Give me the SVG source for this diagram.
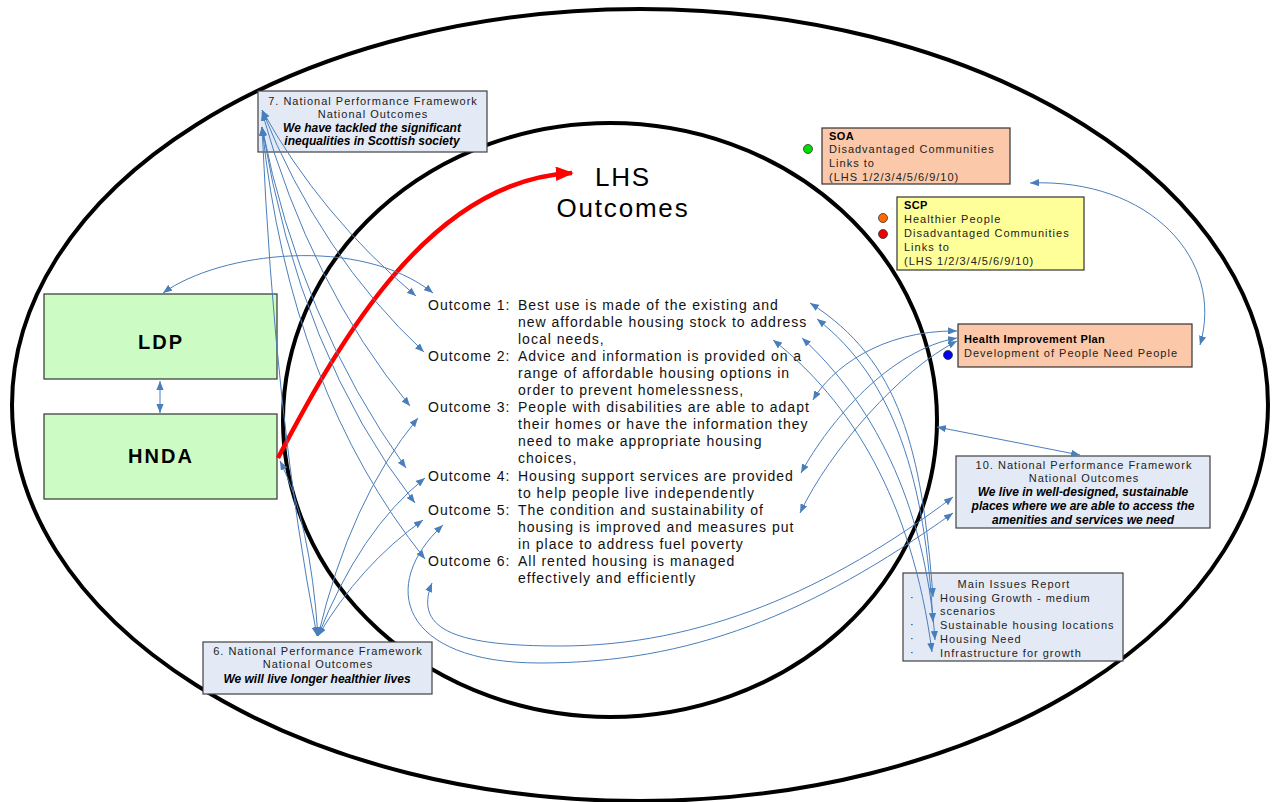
<svg xmlns="http://www.w3.org/2000/svg" width="1274" height="802" viewBox="0 0 1274 802">
<defs>
<style>
.t{font-family:"Liberation Sans",Arial,sans-serif;font-size:11px;letter-spacing:1px;fill:#222}
.c{text-anchor:middle}
.bi{font-family:"Liberation Sans",Arial,sans-serif;font-size:12px;font-weight:bold;font-style:italic;fill:#000;text-anchor:middle}
.b{font-weight:bold;letter-spacing:0.4px;fill:#000}
.o{font-family:"Liberation Sans",Arial,sans-serif;font-size:14px;letter-spacing:1px;fill:#111}
.big{font-family:"Liberation Sans",Arial,sans-serif;font-size:20px;font-weight:bold;letter-spacing:2px;fill:#000;text-anchor:middle}
.nb{fill:#e4eaf5;stroke:#404040;stroke-width:1.2}
.gb{fill:#ccfcc4;stroke:#333;stroke-width:1.2}
.pb{fill:#fbc9aa;stroke:#333;stroke-width:1.2}
.yb{fill:#ffff99;stroke:#333;stroke-width:1.2}
.cn path{fill:none;stroke:#4a7ebb;stroke-width:1;marker-start:url(#a);marker-end:url(#a)}
.ell{fill:none;stroke:#000;stroke-width:4}
.dot{stroke:#333;stroke-width:0.8}
</style>
<marker id="a" viewBox="0 0 10 8" refX="10" refY="4" markerWidth="9" markerHeight="7.2" markerUnits="userSpaceOnUse" orient="auto-start-reverse"><path d="M0,0 L10,4 L0,8 z" fill="#4a7ebb"/></marker>
<marker id="r" viewBox="0 0 10 8" refX="9" refY="4" markerWidth="18" markerHeight="14.4" markerUnits="userSpaceOnUse" orient="auto"><path d="M0,0 L10,4 L0,8 z" fill="#ff0000"/></marker>
</defs>
<rect width="1274" height="802" fill="#fff"/>
<g id="ellipses">
<ellipse class="ell" cx="640" cy="405" rx="628" ry="396"/>
<ellipse class="ell" cx="610" cy="420" rx="327" ry="297"/>
</g>
<g id="lhs-title">
<text class="t c" x="623" y="186" style="font-size:26px;letter-spacing:1.8px;fill:#000">LHS</text>
<text class="t c" x="623" y="217" style="font-size:26px;letter-spacing:1.8px;fill:#000">Outcomes</text>
</g>
<g id="npf7">
<rect class="nb" x="258" y="91" width="229" height="61"/>
<text class="t c" x="373" y="105">7. National Performance Framework</text>
<text class="t c" x="373" y="118">National Outcomes</text>
<text class="bi" x="372" y="132">We have tackled the significant</text>
<text class="bi" x="372" y="145">inequalities in Scottish society</text>
</g>
<g id="ldp">
<rect class="gb" x="44" y="294" width="233" height="85"/>
<text class="big" x="161" y="349">LDP</text>
</g>
<g id="hnda">
<rect class="gb" x="44" y="414" width="233" height="85"/>
<text class="big" x="161" y="463">HNDA</text>
</g>
<g id="npf6">
<rect class="nb" x="203" y="642" width="229" height="52"/>
<text class="t c" x="318" y="655">6. National Performance Framework</text>
<text class="t c" x="318" y="668">National Outcomes</text>
<text class="bi" x="317" y="683">We will live longer healthier lives</text>
</g>
<g id="soa">
<circle class="dot" cx="808" cy="149" r="4.5" fill="#00dd00"/>
<rect class="pb" x="822" y="128" width="188" height="56"/>
<text class="t b" x="829" y="140">SOA</text>
<text class="t" x="829" y="153">Disadvantaged Communities</text>
<text class="t" x="829" y="167">Links to</text>
<text class="t" x="829" y="181">(LHS 1/2/3/4/5/6/9/10)</text>
</g>
<g id="scp">
<circle class="dot" cx="883" cy="218" r="4.5" fill="#ff6a00"/>
<circle class="dot" cx="883" cy="234" r="4.5" fill="#ee0000"/>
<rect class="yb" x="897" y="197" width="187" height="73"/>
<text class="t b" x="904" y="209">SCP</text>
<text class="t" x="904" y="223">Healthier People</text>
<text class="t" x="904" y="237">Disadvantaged Communities</text>
<text class="t" x="904" y="251">Links to</text>
<text class="t" x="904" y="265">(LHS 1/2/3/4/5/6/9/10)</text>
</g>
<g id="hip">
<circle class="dot" cx="948" cy="355" r="4.5" fill="#0000ee"/>
<rect class="pb" x="958" y="324" width="234" height="43"/>
<text class="t b" x="964" y="343">Health Improvement Plan</text>
<text class="t" x="964" y="357">Development of People Need People</text>
</g>
<g id="npf10">
<rect class="nb" x="956" y="456" width="254" height="72"/>
<text class="t c" x="1084" y="469">10. National Performance Framework</text>
<text class="t c" x="1084" y="482">National Outcomes</text>
<text class="bi" x="1083" y="496">We live in well-designed, sustainable</text>
<text class="bi" x="1083" y="510">places where we are able to access the</text>
<text class="bi" x="1083" y="524">amenities and services we need</text>
</g>
<g id="mir">
<rect class="nb" x="903" y="573" width="220" height="88"/>
<text class="t c" x="1014" y="588">Main Issues Report</text>
<text class="t" x="910" y="601">·</text>
<text class="t" x="910" y="628">·</text>
<text class="t" x="910" y="642">·</text>
<text class="t" x="910" y="656">·</text>
<text class="t" x="940" y="602">Housing Growth - medium</text>
<text class="t" x="940" y="615">scenarios</text>
<text class="t" x="940" y="629">Sustainable housing locations</text>
<text class="t" x="940" y="643">Housing Need</text>
<text class="t" x="940" y="657">Infrastructure for growth</text>
</g>
<g id="outcomes">
<text class="o" x="428" y="310">Outcome 1:</text>
<text class="o" x="518" y="310">Best use is made of the existing and</text>
<text class="o" x="518" y="327">new affordable housing stock to address</text>
<text class="o" x="518" y="344">local needs,</text>
<text class="o" x="428" y="361">Outcome 2:</text>
<text class="o" x="518" y="361">Advice and information is provided on a</text>
<text class="o" x="518" y="378">range of affordable housing options in</text>
<text class="o" x="518" y="395">order to prevent homelessness,</text>
<text class="o" x="428" y="412">Outcome 3:</text>
<text class="o" x="518" y="412">People with disabilities are able to adapt</text>
<text class="o" x="518" y="429">their homes or have the information they</text>
<text class="o" x="518" y="446">need to make appropriate housing</text>
<text class="o" x="518" y="463">choices,</text>
<text class="o" x="428" y="481">Outcome 4:</text>
<text class="o" x="518" y="481">Housing support services are provided</text>
<text class="o" x="518" y="498">to help people live independently</text>
<text class="o" x="428" y="515">Outcome 5:</text>
<text class="o" x="518" y="515">The condition and sustainability of</text>
<text class="o" x="518" y="532">housing is improved and measures put</text>
<text class="o" x="518" y="549">in place to address fuel poverty</text>
<text class="o" x="428" y="566">Outcome 6:</text>
<text class="o" x="518" y="566">All rented housing is managed</text>
<text class="o" x="518" y="583">effectively and efficiently</text>
</g>
<g id="connectors">
<path d="M278,458 C340,340 430,180 572,173" fill="none" stroke="#ff0000" stroke-width="4.5" marker-end="url(#r)"/>
<g class="cn">
<path d="M160,381 L160,413"/>
<path d="M163,293 C220,252 360,235 433,293"/>
<path d="M262,110 Q320,215 416,296"/>
<path d="M262,110 Q320,255 424,352"/>
<path d="M262,112 Q310,285 410,406"/>
<path d="M262,127 Q300,320 406,468"/>
<path d="M262,127 Q300,355 415,503"/>
<path d="M262,127 Q290,390 425,559"/>
<path d="M262,127 Q275,420 317,636"/>
<path d="M318,636 Q310,520 280,461"/>
<path d="M318,636 Q350,500 418,418"/>
<path d="M318,636 Q360,530 425,478"/>
<path d="M318,636 Q360,565 423,520"/>
<path d="M810,303 C900,360 922,450 933,597"/>
<path d="M817,319 C895,380 925,480 933,622"/>
<path d="M802,338 C870,400 925,500 935,640"/>
<path d="M773,340 C850,400 912,500 932,652"/>
<path d="M957,331 C880,330 830,370 813,400"/>
<path d="M957,338 C890,350 830,420 801,473"/>
<path d="M957,341 C900,370 830,450 800,513"/>
<path d="M1030,183 C1150,178 1225,260 1200,345"/>
<path d="M937,427 L1080,455"/>
<path d="M432,583 C412,632 462,646 560,646 C700,646 830,590 953,497"/>
<path d="M443,525 C378,585 400,663 540,663 C690,663 810,615 953,513"/>
</g>
</g>
</svg>
